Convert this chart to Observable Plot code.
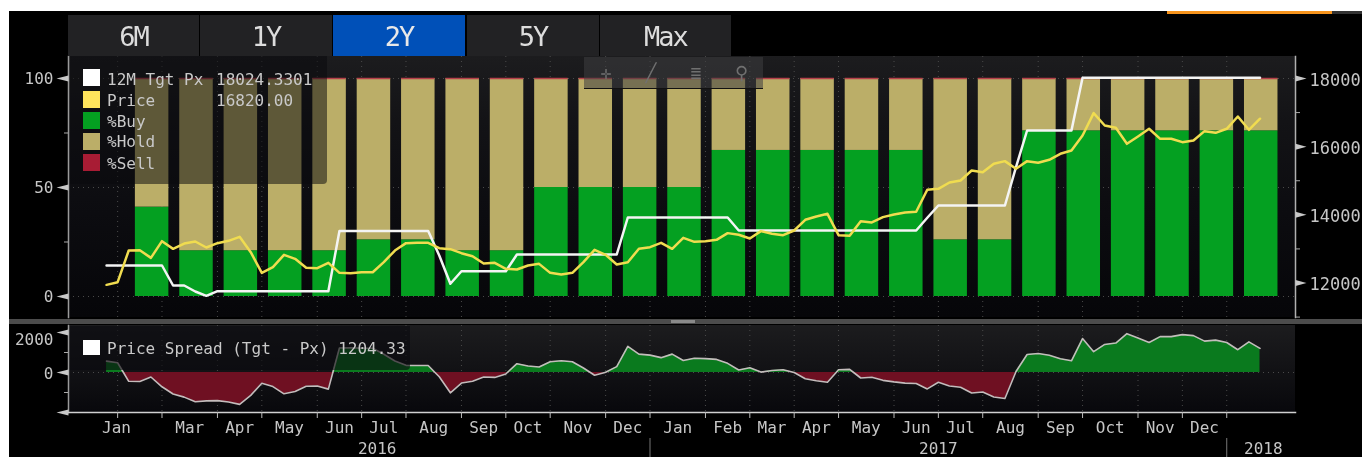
<!DOCTYPE html>
<html><head><meta charset="utf-8">
<script src="https://cdn.jsdelivr.net/npm/d3@7"></script>
<script src="https://cdn.jsdelivr.net/npm/@observablehq/plot@0.6"></script>
<style>
html,body{margin:0;padding:0;background:#fff;overflow:hidden}
#page{position:relative;width:1362px;height:457px;overflow:hidden;background:#fff;font-family:"DejaVu Sans Mono",monospace;filter:blur(.45px)}
#page>*{position:absolute}
#page svg{background:transparent}
.tab{top:15px;height:41px;background:#222224;color:#ddd;font-size:27px;line-height:44px;text-align:center;letter-spacing:-2px}
.leg{color:#c9c9c9;font-size:16px;line-height:20px;white-space:pre}
.sw{width:17px;height:17px}
.tool{top:57px;height:31px;width:44px;color:#707070;font-size:18px;line-height:31px;text-align:center}
</style></head><body><div id="page">
<div style="left:9px;top:11px;width:1353px;height:446px;background:#000"></div>
<div style="left:1167px;top:11px;width:165px;height:3px;background:#f7941d"></div>
<div style="left:1332px;top:11px;width:30px;height:3px;background:#333"></div>
<div style="left:68px;top:56px;width:1227px;height:261px;background:linear-gradient(#1c1c1e 0,#131316 25%,#0c0c10 60%,#060609 100%)"></div>
<div style="left:68px;top:325px;width:1227px;height:87px;background:linear-gradient(#1c1c1e,#08080c)"></div>
<div id="plots" style="left:0;top:0;width:1362px;height:457px"></div>
<div style="left:9px;top:319px;width:1353px;height:5px;background:#4c4c4c"></div>
<div style="left:671px;top:320px;width:24px;height:3px;background:#8a8a8a"></div>
<div class="tab" style="left:68px;width:131px">6M</div>
<div class="tab" style="left:200px;width:132px">1Y</div>
<div class="tab" style="left:333px;width:132px;background:#0050b8;color:#e8e8e8">2Y</div>
<div class="tab" style="left:467px;width:132px">5Y</div>
<div class="tab" style="left:600px;width:131px">Max</div>
<div style="left:70px;top:56px;width:257px;height:128px;background:rgba(10,10,14,.52);border-radius:0 0 4px 0"></div>
<div class="sw" style="left:83px;top:69px;background:#fff"></div>
<div class="sw" style="left:83px;top:91px;background:#ffe45c"></div>
<div class="sw" style="left:83px;top:112px;background:#04a021"></div>
<div class="sw" style="left:83px;top:133px;background:#bbae68"></div>
<div class="sw" style="left:83px;top:154px;background:#a81c34"></div>
<div class="leg" style="left:107px;top:70px">12M Tgt Px</div>
<div class="leg" style="left:216px;top:70px">18024.3301</div>
<div class="leg" style="left:107px;top:91px">Price</div>
<div class="leg" style="left:216px;top:91px">16820.00</div>
<div class="leg" style="left:107px;top:112px">%Buy</div>
<div class="leg" style="left:107px;top:132px">%Hold</div>
<div class="leg" style="left:107px;top:154px">%Sell</div>
<div style="left:584px;top:57px;width:179px;height:31px;background:rgba(62,62,64,.55);border-bottom:1px solid #111"></div>
<div class="tool" style="left:584px">✛</div>
<div class="tool" style="left:629px">╱</div>
<div class="tool" style="left:674px">≣</div>
<div class="tool" style="left:719px">⚲</div>
<div style="left:70px;top:326px;width:340px;height:44px;background:rgba(10,10,14,.62);border-radius:0 0 4px 0"></div>
<div class="sw" style="left:83px;top:340px;background:#fff;height:15px"></div>
<div class="leg" style="left:107px;top:339px">Price Spread (Tgt - Px) 1204.33</div>
</div>
<script>
const weeks = d3.range(0, 105);
const price = [11946,12024,12953,12963,12738,13227,13002,13158,13217,13041,13168,13237,13354,12904,12298,12464,12826,12709,12445,12435,12591,12298,12288,12317,12317,12611,12953,
13169,13179,13179,13022,12993,12875,12787,12572,12592,12416,12396,12514,12562,12298,12250,12298,12611,12973,12827,12543,12611,13003,13052,13179,13003,13325,
13208,13228,13267,13463,13414,13306,13521,13443,13404,13541,13854,13952,14030,13404,13384,13815,13776,13932,14010,14069,14089,14734,14763,14949,15008,15301,
15252,15497,15575,15350,15575,15526,15614,15790,15888,16328,16983,16621,16553,16083,16299,16524,16230,16230,16132,16181,16455,16406,16524,16885,16494,16820];
const target = [12513,12513,12513,12513,12513,12513,11927,11927,11751,11624,11760,11760,11760,11760,11760,11760,11760,11760,11760,11760,11760,
13526,13526,13526,13526,13526,13526,13526,13526,13526,12807,11977,12346,12346,12346,12346,12346,
12836,12836,12836,12836,12836,12836,12836,12836,12836,12836,
13922,13922,13922,13922,13922,13922,13922,13922,13922,13922,
13540,13540,13540,13540,13540,13540,13540,13540,13540,13540,13540,13540,13540,13540,13540,13540,13540,
13913,14274,14274,14274,14274,14274,14274,14274,15398,16474,16474,16474,16474,16474,
18024,18024,18024,18024,18024,18024,18024,18024,18024,18024,18024,18024,18024,18024,18024,18024,18024];
const spread = [567,489,-440,-450,-225,-714,-1075,-1231,-1466,-1417,-1408,-1477,-1594,-1144,-538,-704,-1066,-949,-685,-675,-831,
1228,1238,1209,1209,915,573,357,347,347,-215,-1016,-529,-441,-226,-246,-70,440,322,274,538,586,538,225,-137,9,293,
1311,919,870,743,919,597,714,694,655,459,126,234,19,97,136,-1,-314,-412,-490,136,156,-275,-236,-392,-470,-529,-549,
-821,-489,-675,-734,-1027,-978,-1223,-1301,48,899,948,860,684,586,1696,1041,1403,1471,1941,1725,1500,1794,1794,1892,1843,1569,1618,1500,1139,1530,1204];
const barWeeks = [4,8,12,16,20,24,28,32,36,40,44,48,52,56,60,64,68,72,76,80,84,88,92,96,100,104];
const pctBuy = [41,21,21,21,21,26,26,21,21,50,50,50,50,67,67,67,67,67,26,26,76,76,76,76,76,76];
const pctHold = [59,79,79,79,79,74,74,79,79,50,50,50,50,33,33,33,33,33,74,74,24,24,24,24,24,24];
const pctSell = [0,0,0,0,0,0,0,0,0,0,0,0,0,0,0,0,0,0,0,0,0,0,0,0,0,0];
const monthTicks = [1,5,10,14,19,23,27,32,36,40,45,49,54,58,62,66,71,75,79,84,88,93,97,101];
const monthPos = [0.9,7.5,12,16.5,21,25,29.5,34,38,42.5,47,51.5,56,60,64,68.5,73,77,81.5,86,90.5,95,99];
const monthNames = ["Jan","Mar","Apr","May","Jun","Jul","Aug","Sep","Oct","Nov","Dec","Jan","Feb","Mar","Apr","May","Jun","Jul","Aug","Sep","Oct","Nov","Dec"];
const yearPos = [24.4,75,104.3];
const yearNames = ["2016","2017","2018"];
const yearBreaks = [49,101];

const mono = "DejaVu Sans Mono";
const labelColor = "#c6c6c6";
const xScale = {domain:[-3.43,107.2], axis:null};
const base = {width:1362, height:457, marginLeft:68, marginRight:67, style:{background:"transparent",fontFamily:mono}};
const wedgeL = {draw(c){c.moveTo(-12,0);c.lineTo(0,-3);c.lineTo(0,3);c.closePath();}};
const wedgeR = {draw(c){c.moveTo(11,0);c.lineTo(0,-3);c.lineTo(0,3);c.closePath();}};
const barLeft = 1.4, barRight = 1.62;
const grid = {stroke:"#4a4a4a", strokeDasharray:"1,4"};
const rows = barWeeks.map((w,i)=>({w,buy:pctBuy[i],hold:pctHold[i],sell:pctSell[i]}));

// Upper panel: analyst recommendation bars
const barsPlot = Plot.plot({...base, marginTop:56, marginBottom:140, x:xScale, y:{domain:[-9.63,110.09],axis:null},
  marks:[
    Plot.ruleX(monthTicks, grid),
    Plot.ruleY([0,50,100], grid),
    Plot.rectY(rows,{x1:d=>d.w-barLeft,x2:d=>d.w+barRight,y1:0,y2:"buy",fill:"#04a021"}),
    Plot.rectY(rows,{x1:d=>d.w-barLeft,x2:d=>d.w+barRight,y1:"buy",y2:d=>d.buy+d.hold,fill:"#bbae68"}),
    Plot.ruleY(rows,{x1:d=>d.w-barLeft,x2:d=>d.w+barRight,y:d=>d.buy+d.hold+d.sell,stroke:"#b5404a",strokeWidth:1.5}),
    Plot.frame({anchor:"left",stroke:"#9a9a9a",strokeWidth:1.5}),
    Plot.axisY([0,50,100],{anchor:"left",tickSize:0,tickPadding:15,fontSize:16,color:labelColor,fontFamily:mono,label:null}),
    Plot.axisY([25,75],{anchor:"left",tickSize:4,tickFormat:()=>"",color:"#aaa",label:null}),
    Plot.dot([0,50,100],{y:d=>d,frameAnchor:"left",symbol:wedgeL,r:5,fill:"#c8c8c8"})
  ]});

// Upper panel: price and target lines on the right-hand axis
const pricePlot = Plot.plot({...base, marginTop:56, marginBottom:140, x:xScale, y:{domain:[10988,18645],axis:null},
  marks:[
    Plot.frame({anchor:"right",stroke:"#b0b0b0",strokeWidth:1.5}),
    Plot.axisY([12000,14000,16000,18000],{anchor:"right",tickSize:0,tickPadding:14,dy:2,fontSize:17,color:labelColor,fontFamily:mono,label:null,tickFormat:"d"}),
    Plot.axisY([11000,13000,15000,17000],{anchor:"right",tickSize:4,tickFormat:()=>"",color:"#aaa",label:null}),
    Plot.dot([12000,14000,16000,18000],{y:d=>d,frameAnchor:"right",symbol:wedgeR,r:5,fill:"#c8c8c8"}),
    Plot.line(weeks,{x:d=>d,y:i=>target[i],stroke:"#f4f4f4",strokeWidth:2.5}),
    Plot.line(weeks,{x:d=>d,y:i=>price[i],stroke:"#f0dc50",strokeWidth:2.5})
  ]});

// Lower panel: spread, with a vertex added where the series crosses zero so the fills meet there
const spreadPts = [];
spread.forEach((v,i)=>{
  spreadPts.push({x:i,v});
  const n = spread[i+1];
  if (n !== undefined && v*n < 0) spreadPts.push({x:i+v/(v-n),v:0});
});
const labelByPos = new Map(monthPos.map((p,i)=>[p,monthNames[i]]));
const spreadPlot = Plot.plot({...base, marginTop:325, marginBottom:45, x:xScale, y:{domain:[-2000,2350],axis:null},
  marks:[
    Plot.ruleX(monthTicks, grid),
    Plot.ruleY([0], grid),
    Plot.areaY(spreadPts,{x:"x",y1:0,y2:d=>Math.max(d.v,0),fill:"#0a7a1e"}),
    Plot.areaY(spreadPts,{x:"x",y1:0,y2:d=>Math.min(d.v,0),fill:"#6f1022"}),
    Plot.line(spreadPts,{x:"x",y:"v",stroke:"#c4bcbc",strokeWidth:1.6}),
    Plot.frame({anchor:"left",stroke:"#9a9a9a",strokeWidth:1.5}),
    Plot.frame({anchor:"bottom",stroke:"#d0d0d0",strokeWidth:1.5}),
    Plot.axisY([1000,-1000],{anchor:"left",tickSize:4,tickFormat:()=>"",color:"#aaa",label:null}),
    Plot.dot([2000,0,-2000],{y:d=>d,frameAnchor:"left",symbol:wedgeL,r:5,fill:"#c8c8c8"}),
    Plot.text([0],{y:d=>d,text:d=>String(d),frameAnchor:"left",textAnchor:"end",dx:-15,dy:1,fontSize:16,fill:labelColor,fontFamily:mono}),
    Plot.text([2000],{y:d=>d,text:d=>String(d),frameAnchor:"left",textAnchor:"end",dx:-15,dy:7,fontSize:16,fill:labelColor,fontFamily:mono}),
    Plot.axisX(monthTicks,{anchor:"bottom",tickSize:6,tickFormat:()=>"",color:"#bbb",label:null}),
    Plot.axisX(monthPos,{anchor:"bottom",tickSize:0,tickPadding:9,fontSize:16,color:labelColor,fontFamily:mono,label:null,tickFormat:d=>labelByPos.get(d)}),
    Plot.text(yearPos,{x:d=>d,text:(d,i)=>yearNames[i],frameAnchor:"bottom",dy:36,fontSize:16,fill:labelColor,fontFamily:mono,lineAnchor:"middle"}),
    Plot.ruleX(yearBreaks,{y1:-3300,y2:-4250,stroke:"#777"})
  ]});

const host = document.getElementById("plots");
for (const p of [barsPlot,pricePlot,spreadPlot]) {
  p.style.position = "absolute"; p.style.left = "0"; p.style.top = "0";
  host.appendChild(p);
}
</script></body></html>
